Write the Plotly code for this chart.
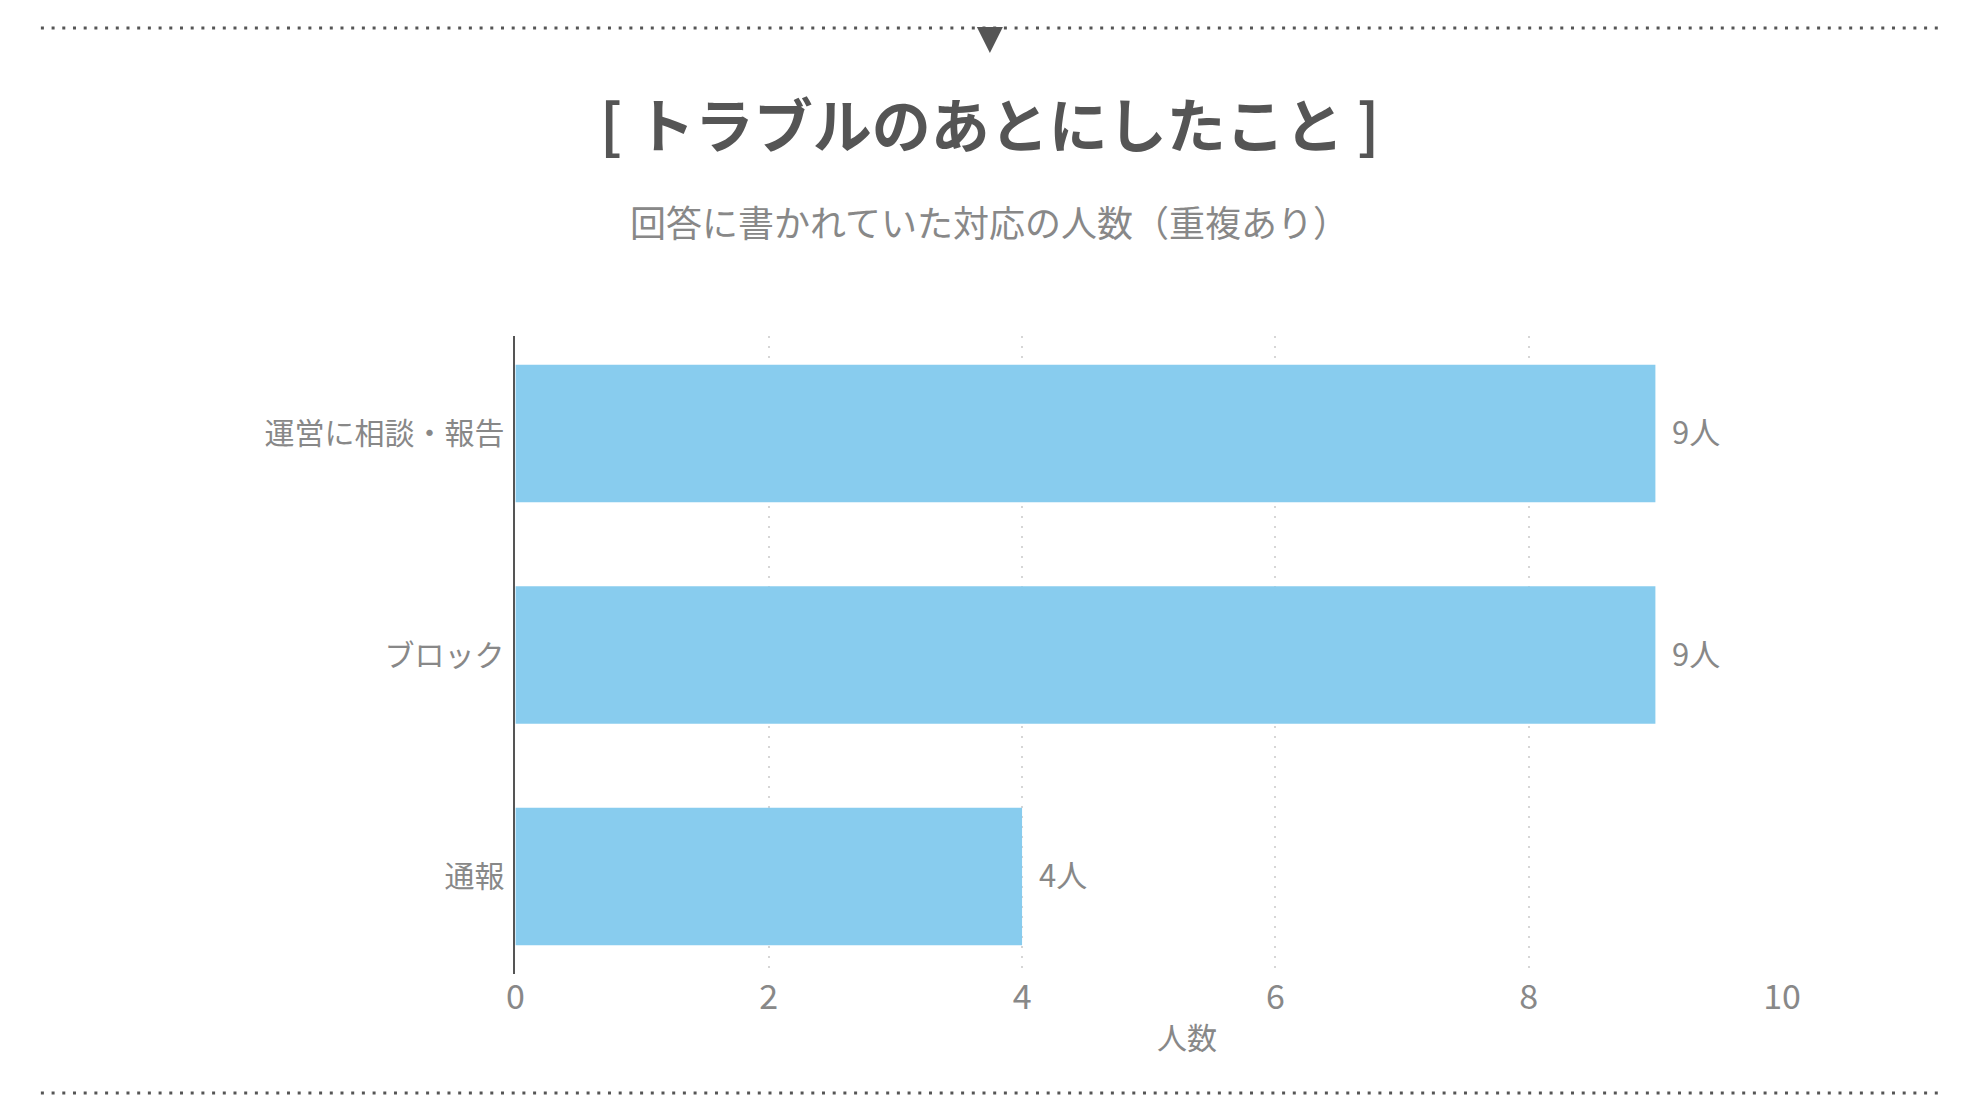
import plotly.graph_objects as go

# data
actions = ['運営に相談・報告', 'ブロック', '通報']
counts = [9, 9, 4]
x_ticks = [0, 2, 4, 6, 8, 10]

title_text = '[ トラブルのあとにしたこと ]'
subtitle_text = '回答に書かれていた対応の人数（重複あり）'
x_title = '人数'

OFF = 8  # page body margin, figure sized so the page does not overflow
W, H = 1980 - 2 * OFF, 1120 - 2 * OFF
font = 'Noto Sans CJK JP'
grey = '#888888'
dark = '#555555'

fig = go.Figure()
fig.add_trace(go.Bar(
    x=counts, y=actions, orientation='h',
    marker=dict(color='#88CCEE', line=dict(width=0)),
    width=0.62,
))

# value labels next to bar ends
for a, c in zip(actions, counts):
    fig.add_annotation(x=c, y=a, text=f'{c}人', xanchor='left', yanchor='middle',
                       xshift=15, yshift=3, showarrow=False,
                       font=dict(family=font, size=31, color=grey))

# reference pixel -> paper helpers (horizontal one calibrated against the screenshot)
px = lambda v: (1.0134 * v - 16.3) / W
py = lambda v: 1 - (v - OFF) / H

fig.update_layout(
    width=W, height=H,
    margin=dict(l=0, r=0, t=0, b=0),
    plot_bgcolor='white', paper_bgcolor='white',
    showlegend=False,
    font=dict(family=font, color=grey),
    xaxis=dict(
        domain=[px(515), px(1783)],
        range=[0, 10], tickvals=x_ticks,
        tickfont=dict(size=34, color=grey),
        showgrid=True, gridcolor='#d6d6d6', gridwidth=2, griddash='2px,8px',
        zeroline=False, showline=False, ticks='',
    ),
    yaxis=dict(
        domain=[py(974), py(336)],
        range=[2.44, -0.44],
        tickfont=dict(size=30, color=grey),
        showline=True, linecolor=dark, linewidth=2,
        showgrid=False, zeroline=False, ticks='',
        ticklabelstandoff=3,
    ),
    shapes=[
        dict(type='line', xref='paper', yref='paper', x0=px(40), x1=px(1941),
             y0=py(28), y1=py(28), line=dict(color=dark, width=3, dash='3px,7.7px')),
        dict(type='line', xref='paper', yref='paper', x0=px(40), x1=px(1941),
             y0=py(1093), y1=py(1093), line=dict(color=dark, width=3, dash='3px,7.7px')),
        dict(type='path', xref='paper', yref='paper',
             path=f'M {px(977)} {py(27)} L {px(1003)} {py(27)} L {px(990)} {py(53)} Z',
             fillcolor=dark, line=dict(width=0)),
    ],
)

fig.add_annotation(text=f'<b>{title_text}</b>', x=px(990), y=py(122), xref='paper', yref='paper',
                   xanchor='center', yanchor='middle', showarrow=False,
                   font=dict(size=59, color=dark, family=font))
fig.add_annotation(text=subtitle_text, x=px(990), y=py(221), xref='paper', yref='paper',
                   xanchor='center', yanchor='middle', showarrow=False,
                   font=dict(size=36, color=grey, family=font))
fig.add_annotation(text=x_title, x=px(1187), y=py(1036), xref='paper', yref='paper',
                   xanchor='center', yanchor='middle', showarrow=False,
                   font=dict(size=30, color=grey, family=font))

fig.write_html('out.html')
